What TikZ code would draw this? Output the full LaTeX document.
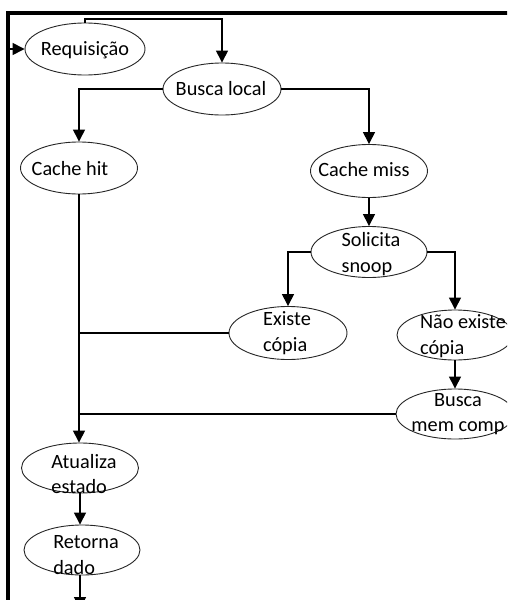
\documentclass[tikz,border=0pt]{standalone}
\usepackage{fontspec}
\setmainfont{Carlito}
\usetikzlibrary{shapes.geometric,arrows.meta}

\tikzset{
  oval/.style={draw=black!85, line width=0.9pt, ellipse, inner sep=0pt},
  txt/.style={inner sep=0pt, align=left, font=\fontsize{20.3}{25.5}\selectfont},
  link/.style={draw=black, line width=1.4pt},
  arr/.style={link, -{Triangle[width=12pt,length=12pt]}},
  frame/.style={draw=black, line width=3.2pt}
}

\begin{document}
\begin{tikzpicture}[x=1pt, y=-1pt]
  \useasboundingbox (0,0) rectangle (507,600);
  \clip (0,0) rectangle (507,600);
  \fill[white] (0,0) rectangle (507,600);

  % outer frame (left and top edges)
  \coordinate (fbl) at (8,604);
  \coordinate (ftl) at (8,13);
  \coordinate (ftr) at (510,13);
  \draw[frame] (fbl) -- (ftl) -- (ftr);

  % ovals
  \node[oval, minimum width=120pt, minimum height=52pt] (req)    at (85,49)   {};
  \node[oval, minimum width=118pt, minimum height=52pt] (busca)  at (222,89)  {};
  \node[oval, minimum width=117pt, minimum height=52pt] (hit)    at (79,168)  {};
  \node[oval, minimum width=117pt, minimum height=53pt] (miss)   at (369,171) {};
  \node[oval, minimum width=116pt, minimum height=51pt] (snoop)  at (369,252) {};
  \node[oval, minimum width=118pt, minimum height=53pt] (existe) at (288,333) {};
  \node[oval, minimum width=116pt, minimum height=50pt] (nao)    at (455,335) {};
  \node[oval, minimum width=118pt, minimum height=50pt] (bmem)   at (455,414) {};
  \node[oval, minimum width=117pt, minimum height=50pt] (atual)  at (80,468)  {};
  \node[oval, minimum width=116pt, minimum height=50pt] (ret)    at (82,550)  {};

  % labels
  \node[txt] (treq)    at (85,50)    {Requisição};
  \node[txt] (tbusca)  at (221,89)   {Busca local};
  \node[txt] (thit)    at (70,169)   {Cache hit};
  \node[txt] (tmiss)   at (364,170)  {Cache miss};
  \node[txt] (tsnoop)  at (371,254)  {Solicita\\snoop};
  \node[txt] (texiste) at (287,333)  {Existe\\cópia};
  \node[txt] (tnao)    at (463,336)  {Não existe\\cópia};
  \node[txt, align=center] (tbmem) at (458,414) {Busca\\mem comp};
  \node[txt] (tatual)  at (84,474)   {Atualiza\\estado};
  \node[txt] (tret)    at (86,555)   {Retorna\\dado};

  % connectors
  \coordinate (entry) at (8,49);
  \coordinate (ytop) at (0,19);
  \coordinate (exit) at (0,609);

  \draw[arr] (entry) -- (req.west);
  \draw[arr] (req.north) -- (req.north |- ytop) -| (busca.north);
  \draw[arr] (busca.west) -| (hit.north);
  \draw[arr] (busca.east) -| (miss.north);
  \draw[arr] (miss.south) -- (snoop.north);
  \draw[arr] (snoop.west) -| (existe.north);
  \draw[arr] (snoop.east) -| (nao.north);
  \draw[arr] (nao.south) -- (nao.south |- bmem.north);
  \draw[link] (existe.west) -- (existe.west -| hit.south);
  \draw[link] (bmem.west) -- (bmem.west -| hit.south);
  \draw[arr] (hit.south) -- (hit.south |- atual.north);
  \draw[arr] (atual.south) -- (atual.south |- ret.north);
  \draw[arr] (ret.south -| atual.south) -- (atual.south |- exit);
\end{tikzpicture}
\end{document}
